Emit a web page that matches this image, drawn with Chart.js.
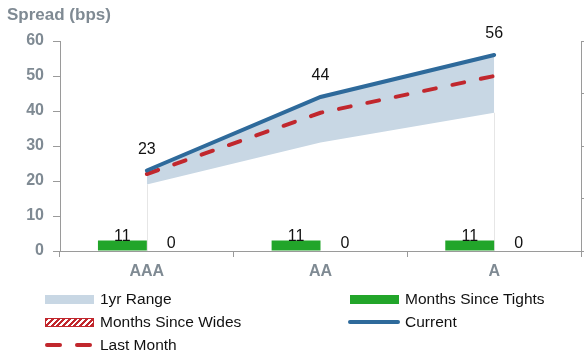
<!DOCTYPE html>
<html>
<head>
<meta charset="utf-8">
<script src="https://cdn.jsdelivr.net/npm/chart.js@4.4.1/dist/chart.umd.min.js"></script>
<style>
  body { margin: 0; background: #fff; }
  #wrap { position: relative; width: 584px; height: 358px; font-family: "Liberation Sans", Arial, sans-serif; }
  #chart { position: absolute; left: 0; top: 0; }
  .item { position: absolute; display: flex; align-items: center; height: 20px; font-size: 15.5px; color: #111; white-space: nowrap; }
  .sw { flex: none; margin-right: 6px; }
  .sw-range { width: 49px; height: 9px; background: #c8d7e4; }
  .sw-tights { width: 49px; height: 9px; background: #22a52a; }
  .sw-wides { width: 47px; height: 7px; border: 1px solid #c1272d;
    background: repeating-linear-gradient(135deg, #c1272d 0 2px, #fff 2px 4px); }
  .sw-current { width: 52px; height: 4px; border-radius: 2px; background: #2e6a9b; margin-left: -2px; margin-right: 5px; }
  .sw-last { width: 49px; height: 4px; position: relative; }
  .sw-last span { position: absolute; top: 0; width: 17px; height: 4px; border-radius: 2px; background: #c1272d; }
</style>
</head>
<body>
<div id="wrap">
  <canvas id="chart" width="584" height="358"></canvas>
  <div class="item" style="left:45px;top:289px"><div class="sw sw-range"></div>1yr Range</div>
  <div class="item" style="left:350px;top:289px"><div class="sw sw-tights"></div>Months Since Tights</div>
  <div class="item" style="left:45px;top:312px"><div class="sw sw-wides"></div>Months Since Wides</div>
  <div class="item" style="left:350px;top:312px"><div class="sw sw-current"></div>Current</div>
  <div class="item" style="left:45px;top:335px"><div class="sw sw-last"><span style="left:0"></span><span style="left:30px"></span></div>Last Month</div>
</div>
<script>
// Rating buckets and spread levels (bps)
const categories = ['AAA', 'AA', 'A'];
const current = [23, 44, 56];
const lastMonth = [22, 39.5, 50];
const rangeLow = [19, 31, 39.5];
const rangeHigh = [23, 44, 56];
// Months elapsed since the tightest / widest level
const monthsSinceTights = [11, 11, 11];
const monthsSinceWides = [0, 0, 0];
// Left axis ticks
const spreadMin = 0, spreadMax = 60, spreadStep = 10;

const FONT = '"Liberation Sans", Arial, sans-serif';
const GREY_TEXT = '#7f8a93';
const AXIS = '#9a9a9a';

// diagonal red hatch for the "since wides" bars
function hatch() {
  const c = document.createElement('canvas');
  c.width = 4; c.height = 4;
  const g = c.getContext('2d');
  g.fillStyle = '#fff'; g.fillRect(0, 0, 4, 4);
  g.strokeStyle = '#c1272d'; g.lineWidth = 1.5;
  g.beginPath(); g.moveTo(0, 0); g.lineTo(4, 4); g.stroke();
  return g.createPattern(c, 'repeat');
}

// value text above points and bars
const valueLabels = {
  id: 'valueLabels',
  afterDatasetsDraw(chart) {
    const ctx = chart.ctx;
    ctx.save();
    ctx.font = '16px ' + FONT;
    ctx.fillStyle = '#111';
    ctx.textAlign = 'center';
    ctx.textBaseline = 'alphabetic';
    chart.data.datasets.forEach((ds, i) => {
      if (ds.labelGap === undefined) return;
      chart.getDatasetMeta(i).data.forEach((el, j) => {
        ctx.fillText(String(ds.data[j]), el.x, el.y - ds.labelGap);
      });
    });
    ctx.restore();
  }
};

// faint verticals closing the range band at its two ends
const rangeEdges = {
  id: 'rangeEdges',
  beforeDatasetsDraw(chart) {
    const xs = chart.scales.x, ys = chart.scales.y, ctx = chart.ctx;
    ctx.save();
    ctx.strokeStyle = '#e6e6e6';
    ctx.lineWidth = 1;
    [0, categories.length - 1].forEach(i => {
      const px = Math.round(xs.getPixelForValue(i)) + 0.5;
      ctx.beginPath();
      ctx.moveTo(px, ys.getPixelForValue(rangeLow[i]));
      ctx.lineTo(px, ys.getPixelForValue(0));
      ctx.stroke();
    });
    ctx.restore();
  }
};

new Chart(document.getElementById('chart'), {
  type: 'bar',
  data: {
    labels: categories,
    datasets: [
      { type: 'line', label: 'range low', data: rangeLow, yAxisID: 'y', borderWidth: 0, pointRadius: 0, fill: false, order: 6 },
      { type: 'line', label: '1yr Range', data: rangeHigh, yAxisID: 'y', borderWidth: 0, pointRadius: 0,
        fill: '-1', backgroundColor: '#c8d7e4', order: 5 },
      { label: 'Months Since Tights', data: monthsSinceTights, yAxisID: 'y2', backgroundColor: '#22a52a',
        categoryPercentage: 0.563, barPercentage: 1, order: 3, labelGap: 0 },
      { label: 'Months Since Wides', data: monthsSinceWides, yAxisID: 'y2', backgroundColor: hatch(),
        borderColor: '#c1272d', borderWidth: 0, categoryPercentage: 0.563, barPercentage: 1, order: 3, labelGap: 3 },
      { type: 'line', label: 'Last Month', data: lastMonth, yAxisID: 'y', borderColor: '#c1272d', borderWidth: 4,
        borderDash: [12, 17], borderCapStyle: 'round', pointRadius: 0, fill: false, order: 2 },
      { type: 'line', label: 'Current', data: current, yAxisID: 'y', borderColor: '#2e6a9b', borderWidth: 4,
        borderCapStyle: 'round', pointRadius: 0, fill: false, order: 1, labelGap: 17 }
    ]
  },
  options: {
    responsive: false,
    animation: false,
    layout: { padding: { left: 7, right: 0, top: 0, bottom: 67 } },
    plugins: {
      legend: { display: false },
      tooltip: { enabled: false },
      title: {
        display: true, text: 'Spread (bps)', align: 'start', color: GREY_TEXT,
        font: { family: FONT, size: 17, weight: 'bold' }, padding: { top: 5, bottom: 15.6 }
      }
    },
    scales: {
      x: {
        grid: { offset: true, drawOnChartArea: false, drawTicks: true, tickLength: 6, color: AXIS },
        border: { display: true, color: AXIS },
        ticks: { color: GREY_TEXT, font: { family: FONT, size: 16, weight: 'bold' }, padding: 5 },
        afterFit(s) { s.height = 40; }
      },
      y: {
        min: spreadMin, max: spreadMax,
        grid: { drawOnChartArea: false, tickLength: 7, color: AXIS },
        border: { display: true, color: AXIS },
        ticks: { stepSize: spreadStep, color: GREY_TEXT, font: { family: FONT, size: 16, weight: 'bold' }, padding: 9 },
        afterFit(s) { s.width = 53; }
      },
      y2: {
        position: 'right', min: 0, max: 220,
        grid: { drawOnChartArea: false, tickLength: 6, color: AXIS },
        border: { display: true, color: AXIS },
        ticks: { display: false, stepSize: 55 },
        afterFit(s) { s.width = 3; }
      }
    }
  },
  plugins: [rangeEdges, valueLabels]
});
</script>
</body>
</html>
